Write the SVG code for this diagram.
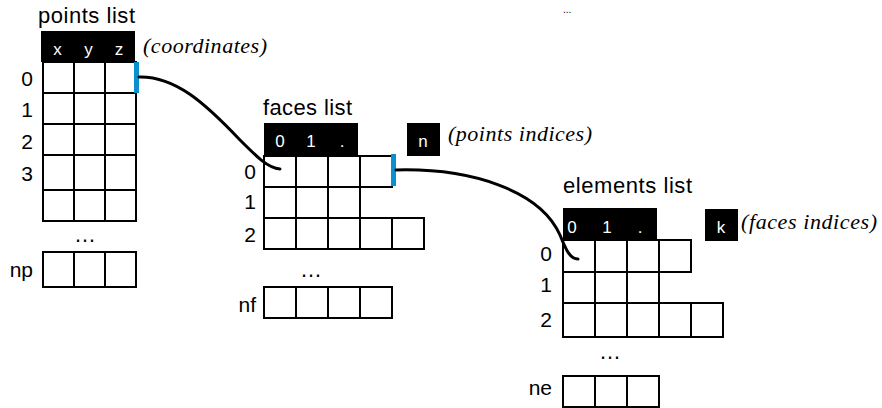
<svg xmlns="http://www.w3.org/2000/svg" width="882" height="408" viewBox="0 0 882 408">
<style>
.t{font-family:"Liberation Sans",Arial,sans-serif;font-size:22px;fill:#000}
.h{font-family:"Liberation Sans",Arial,sans-serif;font-size:17px;fill:#fff;text-anchor:middle}
.r{font-family:"Liberation Sans",Arial,sans-serif;font-size:21px;fill:#000;text-anchor:end}
.i{font-family:"Liberation Serif","Times New Roman",serif;font-style:italic;font-size:22px;fill:#000}
.c{fill:#fff;stroke:#000;stroke-width:2}
.hd{fill:#000}
.bl{fill:#0a8fcf}
.cn{fill:none;stroke:#000;stroke-width:3;stroke-linecap:round}
</style>
<rect width="882" height="408" fill="#fff"/>
<text x="563" y="13" font-family="Liberation Sans, sans-serif" font-size="10">...</text>
<g id="points">
<text class="t" x="38" y="23" textLength="97">points list</text>
<rect class="hd" x="41" y="31" width="94" height="31"/>
<text class="h" x="57.5" y="55">x</text><text class="h" x="88.5" y="55">y</text><text class="h" x="119" y="55">z</text>
<text class="i" x="143" y="53" textLength="124">(coordinates)</text>
<g>
<rect class="c" x="43" y="62" width="31" height="31"/><rect class="c" x="74" y="62" width="31" height="31"/><rect class="c" x="105" y="62" width="31" height="31"/>
<rect class="c" x="43" y="93" width="31" height="31"/><rect class="c" x="74" y="93" width="31" height="31"/><rect class="c" x="105" y="93" width="31" height="31"/>
<rect class="c" x="43" y="124" width="31" height="31"/><rect class="c" x="74" y="124" width="31" height="31"/><rect class="c" x="105" y="124" width="31" height="31"/>
<rect class="c" x="43" y="155" width="31" height="35"/><rect class="c" x="74" y="155" width="31" height="35"/><rect class="c" x="105" y="155" width="31" height="35"/>
<rect class="c" x="43" y="190" width="31" height="31"/><rect class="c" x="74" y="190" width="31" height="31"/><rect class="c" x="105" y="190" width="31" height="31"/>
<rect class="c" x="43" y="252" width="31" height="35"/><rect class="c" x="74" y="252" width="31" height="35"/><rect class="c" x="105" y="252" width="31" height="35"/>
</g>
<rect class="bl" x="134" y="62" width="5" height="31"/>
<text class="r" x="33" y="86">0</text><text class="r" x="33" y="117">1</text><text class="r" x="33" y="149">2</text><text class="r" x="33" y="181">3</text>
<text class="t" x="74" y="242">…</text>
<text class="r" x="33" y="277">np</text>
</g>
<g id="faces">
<text class="t" x="263" y="115" textLength="89">faces list</text>
<rect class="hd" x="264" y="123" width="94" height="33"/>
<text class="h" x="280" y="147">0</text><text class="h" x="311" y="147">1</text><text class="h" x="342" y="147">.</text>
<rect class="hd" x="407" y="123" width="33" height="33"/>
<text class="h" x="423" y="147">n</text>
<text class="i" x="448" y="141" textLength="144">(points indices)</text>
<g>
<rect class="c" x="264" y="156" width="32" height="31"/><rect class="c" x="296" y="156" width="32" height="31"/><rect class="c" x="328" y="156" width="32" height="31"/><rect class="c" x="360" y="156" width="32" height="31"/>
<rect class="c" x="264" y="187" width="32" height="31"/><rect class="c" x="296" y="187" width="32" height="31"/><rect class="c" x="328" y="187" width="32" height="31"/>
<rect class="c" x="264" y="218" width="32" height="31"/><rect class="c" x="296" y="218" width="32" height="31"/><rect class="c" x="328" y="218" width="32" height="31"/><rect class="c" x="360" y="218" width="32" height="31"/><rect class="c" x="392" y="218" width="32" height="31"/>
<rect class="c" x="264" y="287" width="32" height="31"/><rect class="c" x="296" y="287" width="32" height="31"/><rect class="c" x="328" y="287" width="32" height="31"/><rect class="c" x="360" y="287" width="32" height="31"/>
</g>
<rect class="bl" x="391" y="154" width="5" height="32"/>
<text class="r" x="256" y="179">0</text><text class="r" x="256" y="209">1</text><text class="r" x="256" y="242">2</text>
<text class="t" x="300" y="277">…</text>
<text class="r" x="256" y="312">nf</text>
</g>
<g id="elements">
<text class="t" x="563" y="193" textLength="129">elements list</text>
<rect class="hd" x="563" y="208" width="94" height="32"/>
<text class="h" x="572" y="233">0</text><text class="h" x="607" y="233">1</text><text class="h" x="640" y="233">.</text>
<rect class="hd" x="705" y="209" width="33" height="32"/>
<text class="h" x="721" y="233">k</text>
<text class="i" x="741" y="229" textLength="136">(faces indices)</text>
<g>
<rect class="c" x="563" y="240" width="32" height="32"/><rect class="c" x="595" y="240" width="32" height="32"/><rect class="c" x="627" y="240" width="32" height="32"/><rect class="c" x="659" y="240" width="32" height="32"/>
<rect class="c" x="563" y="272" width="32" height="31"/><rect class="c" x="595" y="272" width="32" height="31"/><rect class="c" x="627" y="272" width="32" height="31"/>
<rect class="c" x="563" y="303" width="32" height="34"/><rect class="c" x="595" y="303" width="32" height="34"/><rect class="c" x="627" y="303" width="32" height="34"/><rect class="c" x="659" y="303" width="32" height="34"/><rect class="c" x="691" y="303" width="32" height="34"/>
<rect class="c" x="563" y="376" width="32" height="31"/><rect class="c" x="595" y="376" width="32" height="31"/><rect class="c" x="627" y="376" width="32" height="31"/>
</g>
<text class="r" x="552" y="261">0</text><text class="r" x="552" y="292">1</text><text class="r" x="552" y="327">2</text>
<text class="t" x="599" y="359">…</text>
<text class="r" x="552" y="395">ne</text>
</g>
<g id="connectors">
<path class="cn" d="M139,77 C175,76 205,103 240,140 C258,158 268,168 280,169"/>
<path class="cn" d="M396,170 C470,168 540,190 560,235 C566,250 570,259 578,259"/>
</g>
</svg>
